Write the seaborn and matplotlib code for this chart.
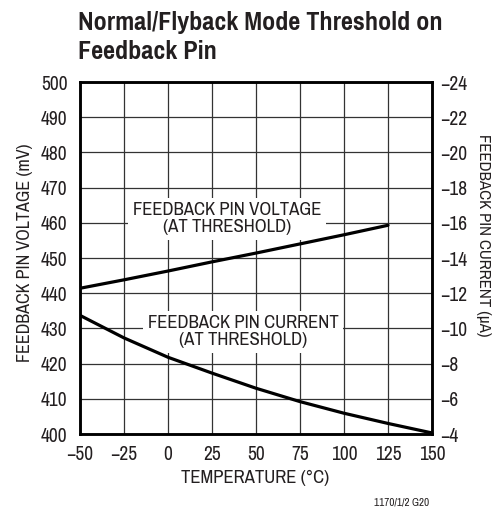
import matplotlib
matplotlib.use('Agg')
import matplotlib.pyplot as plt
import seaborn as sns

# values
temp_v = [-50, -25, 0, 25, 50, 75, 100, 125]
voltage_mv = [441.4, 443.8, 446.3, 448.9, 451.4, 454.0, 456.6, 459.3]

temp_i = [-50, -25, 0, 25, 50, 75, 100, 125, 150]
current_ua = [-10.74, -9.46, -8.36, -7.46, -6.60, -5.84, -5.18, -4.60, -4.06]

x_ticks = [-50, -25, 0, 25, 50, 75, 100, 125, 150]
y_ticks = [400, 410, 420, 430, 440, 450, 460, 470, 480, 490, 500]
y2_ticks = [-4, -6, -8, -10, -12, -14, -16, -18, -20, -22, -24]

sns.set_style('white')
plt.rcParams['font.family'] = ['Archivo Narrow', 'DejaVu Sans']
plt.rcParams['text.color'] = '#231f20'

fig = plt.figure(figsize=(4.97, 5.12), dpi=100)
ax = fig.add_axes([80/497, 1-434/512, 352/497, 352/512])

sns.lineplot(x=temp_v, y=voltage_mv, ax=ax, color='black', linewidth=2.3, zorder=4)
ax.set_xlim(-50, 150)
ax.set_ylim(400, 500)
ax.set_xticks(x_ticks)
ax.set_yticks(y_ticks)
ax.set_xticklabels([str(v).replace('-', '\u2212') for v in x_ticks])
ax.grid(True, color='#333333', linewidth=0.9)
ax.set_axisbelow(True)
for s in ax.spines.values():
    s.set_linewidth(1.8)
    s.set_color('black')
ax.tick_params(axis='both', length=0, labelsize=14, colors='#231f20')
ax.tick_params(axis='x', pad=8)
ax.tick_params(axis='y', pad=9)
ax.set_xlabel('')
ax.set_ylabel('')

ax2 = ax.twinx()
sns.lineplot(x=temp_i, y=current_ua, ax=ax2, color='black', linewidth=2.3)
ax2.set_ylim(-4, -24)
ax2.set_yticks(y2_ticks)
ax2.set_yticklabels([str(v).replace('-', '\u2212') for v in y2_ticks])
ax2.grid(False)
ax2.tick_params(axis='y', length=0, labelsize=14, pad=6, colors='#231f20')
for s in ax2.spines.values():
    s.set_linewidth(1.8)
    s.set_color('black')
ax2.set_ylabel('')

box = dict(boxstyle='square,pad=0.25', facecolor='white', edgecolor='none')
ax.text(33.5, 461.2, 'FEEDBACK PIN VOLTAGE\n(AT THRESHOLD)', ha='center', va='center',
        fontsize=13.5, linespacing=1.05, bbox=box, zorder=3)
ax.text(42.6, 429.1, 'FEEDBACK PIN CURRENT\n(AT THRESHOLD)', ha='center', va='center',
        fontsize=13.5, linespacing=1.05, bbox=box, zorder=3)

ax.text(-0.156, 0.514, 'FEEDBACK PIN VOLTAGE (mV)', transform=ax.transAxes,
        rotation=90, ha='center', va='center', fontsize=13)
ax.text(1.145, 0.565, 'FEEDBACK PIN CURRENT (\u00b5A)', transform=ax.transAxes,
        rotation=270, ha='center', va='center', fontsize=12.2)
ax.text(0.497, -0.125, 'TEMPERATURE (\u00b0C)', transform=ax.transAxes,
        ha='center', va='center', fontsize=13.5)

# two-line title, drawn line by line in a narrow bold face
title_font = ['Pragati Narrow', 'Archivo Narrow', 'DejaVu Sans']
fig.text(78/497, 1-30/512, 'Normal/Flyback Mode Threshold on', family=title_font,
         ha='left', va='baseline', fontsize=20.5, fontweight='bold', color='#231f20')
fig.text(78/497, 1-59/512, 'Feedback Pin', family=title_font,
         ha='left', va='baseline', fontsize=20.5, fontweight='bold', color='#231f20')
fig.text(402/497, 1-502/512, '1170/1/2 G20', ha='center', va='center', fontsize=8)

fig.savefig('out.png', dpi=100)
